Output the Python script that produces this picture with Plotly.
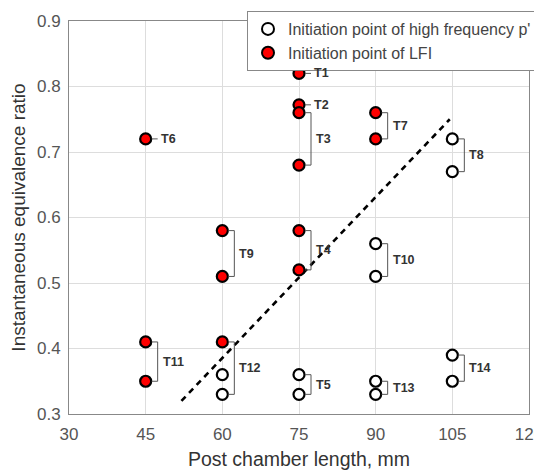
import plotly.graph_objects as go

# Initiation point of LFI (filled red markers)
lfi_x = [75, 75, 75, 75, 75, 75, 45, 90, 90, 60, 60, 45, 45, 60]
lfi_y = [0.82, 0.772, 0.76, 0.68, 0.58, 0.52, 0.72, 0.76, 0.72, 0.58, 0.51, 0.41, 0.35, 0.41]

# Initiation point of high-frequency p' (hollow markers)
hf_x = [75, 75, 105, 105, 90, 90, 60, 60, 90, 90, 105, 105]
hf_y = [0.36, 0.33, 0.72, 0.67, 0.56, 0.51, 0.36, 0.33, 0.35, 0.33, 0.39, 0.35]

# Test-case labels and the vertical span each one brackets
test_names = ["T1", "T2", "T3", "T4", "T5", "T6", "T7", "T8", "T9", "T10", "T11", "T12", "T13", "T14"]
test_x = [75, 75, 75, 75, 75, 45, 90, 105, 60, 90, 45, 60, 90, 105]
test_top = [0.82, 0.772, 0.76, 0.58, 0.36, 0.72, 0.76, 0.72, 0.58, 0.56, 0.41, 0.41, 0.35, 0.39]
test_bot = [0.82, 0.772, 0.68, 0.52, 0.33, 0.72, 0.72, 0.67, 0.51, 0.51, 0.35, 0.33, 0.33, 0.35]

# Dashed trend line end points
trend_x = [52, 104.5]
trend_y = [0.32, 0.75]

x_ticks = [30, 45, 60, 75, 90, 105, 120]
y_ticks = [0.3, 0.4, 0.5, 0.6, 0.7, 0.8, 0.9]

FONT = "Liberation Sans, Arial, sans-serif"

fig = go.Figure()

fig.add_trace(go.Scatter(
    x=trend_x, y=trend_y, mode="lines", showlegend=False,
    line=dict(color="black", width=2.6, dash="6px,5px"), hoverinfo="skip"))

fig.add_trace(go.Scatter(
    x=hf_x, y=hf_y, mode="markers", name="Initiation point of high frequency p'",
    marker=dict(symbol="circle", size=11, color="white", line=dict(color="black", width=2.2))))

fig.add_trace(go.Scatter(
    x=lfi_x, y=lfi_y, mode="markers", name="Initiation point of LFI",
    marker=dict(symbol="circle", size=11, color="#ff0000", line=dict(color="black", width=2.2))))

shapes = []
annotations = []
line_style = dict(color="#555555", width=1)
label_font = dict(family=FONT, size=12.5, color="#333333", weight="bold")
for name, tx, top, bot in zip(test_names, test_x, test_top, test_bot):
    if top == bot:
        shapes.append(dict(type="line", xref="x", yref="y", xsizemode="pixel", xanchor=tx,
                           x0=6, x1=12, y0=top, y1=top, line=line_style))
        annotations.append(dict(x=tx, y=top, xref="x", yref="y", text=name, showarrow=False,
                                xanchor="left", yanchor="middle", xshift=13, font=label_font))
    else:
        for yy in (top, bot):
            shapes.append(dict(type="line", xref="x", yref="y", xsizemode="pixel", xanchor=tx,
                               x0=6, x1=12, y0=yy, y1=yy, line=line_style))
        shapes.append(dict(type="line", xref="x", yref="y", xsizemode="pixel", xanchor=tx,
                           x0=12, x1=12, y0=bot, y1=top, line=line_style))
        annotations.append(dict(x=tx, y=(top + bot) / 2, xref="x", yref="y", text=name,
                                showarrow=False, xanchor="left", yanchor="middle", xshift=15,
                                font=label_font))

# page body has an 8px margin, so margins are shifted to keep the plot area in place
fig.update_layout(
    width=542, height=462,
    margin=dict(l=61, r=21, t=13, b=56, autoexpand=False),
    paper_bgcolor="white", plot_bgcolor="white",
    font=dict(family=FONT, color="#444444"),
    shapes=shapes, annotations=annotations,
    legend=dict(x=(247 - 69) / 460, y=1 + 10 / 393, xanchor="left", yanchor="top",
                bgcolor="white", bordercolor="#888888", borderwidth=1,
                font=dict(family=FONT, size=16, color="#444444"),
                tracegroupgap=0, itemsizing="constant"),
    xaxis=dict(range=[30, 120], tickvals=x_ticks, ticktext=[str(v) for v in x_ticks],
               showgrid=True, gridcolor="#dddddd", gridwidth=1, zeroline=False,
               showline=True, linecolor="#888888", linewidth=1, mirror=True,
               ticks="outside", ticklen=5, tickcolor="rgba(0,0,0,0)",
               automargin=False, ticklabeloverflow="allow",
               tickfont=dict(family=FONT, size=17, color="#555555"),
               title=dict(text="Post chamber length, mm", standoff=10,
                          font=dict(family=FONT, size=19.5, color="#333333"))),
    yaxis=dict(range=[0.3, 0.9], tickvals=y_ticks, ticktext=[f"{v:.1f}" for v in y_ticks],
               showgrid=True, gridcolor="#dddddd", gridwidth=1, zeroline=False,
               showline=True, linecolor="#888888", linewidth=1, mirror=True,
               ticks="outside", ticklen=4, tickcolor="rgba(0,0,0,0)",
               automargin=False, ticklabeloverflow="allow",
               tickfont=dict(family=FONT, size=17, color="#555555"),
               title=dict(text="Instantaneous equivalence ratio", standoff=6,
                          font=dict(family=FONT, size=19, color="#333333"))),
)

fig.write_html("out.html")
